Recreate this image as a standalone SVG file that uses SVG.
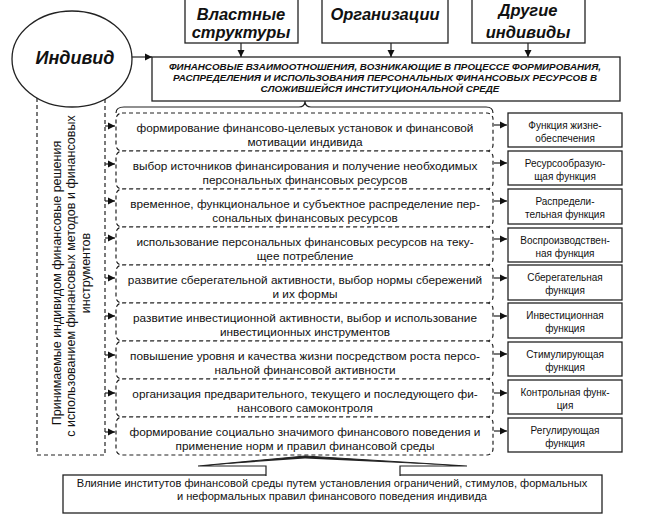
<svg xmlns="http://www.w3.org/2000/svg" width="647" height="522" viewBox="0 0 647 522">
<style>
.box{fill:#fff;stroke:#222;stroke-width:1.3}
.dash{fill:#fff;stroke:#222;stroke-width:1.2;stroke-dasharray:4 3}
.ln{fill:none;stroke:#222;stroke-width:1.2}
.big{font-family:"Liberation Sans",Arial,sans-serif;font-weight:bold;font-style:italic;font-size:16.5px;fill:#111;text-anchor:middle}
.caps{font-family:"Liberation Sans",Arial,sans-serif;font-weight:bold;font-style:italic;font-size:9.8px;fill:#111;text-anchor:middle}
.mid{font-family:"Liberation Sans",Arial,sans-serif;font-size:11.8px;fill:#111;text-anchor:middle}
.fn{font-family:"Liberation Sans",Arial,sans-serif;font-size:10px;fill:#111;text-anchor:middle}
.rot{font-family:"Liberation Sans",Arial,sans-serif;font-size:12.5px;fill:#111;text-anchor:middle}
.bot{font-family:"Liberation Sans",Arial,sans-serif;font-size:11.1px;fill:#111;text-anchor:middle}
</style>
<defs>
<marker id="ah" markerWidth="8" markerHeight="8" refX="7" refY="4" orient="auto" markerUnits="userSpaceOnUse">
<path d="M0,0.5 L7,4 L0,7.5 Z" fill="#111"/>
</marker>
</defs>
<rect width="647" height="522" fill="#fff"/>

<g id="decisions">
<rect class="dash" x="37" y="90" width="68" height="365"/>
<text class="rot" transform="translate(61,283) rotate(-90)">Принимаемые индивидом финансовые решения</text>
<text class="rot" transform="translate(75,276) rotate(-90)">с использованием финансовых методов и финансовых</text>
<text class="rot" transform="translate(90,273) rotate(-90)">инструментов</text>
</g>

<g id="individ">
<ellipse class="box" cx="72" cy="59" rx="60" ry="48"/>
<text class="big" x="75" y="64" style="font-size:18px">Индивид</text>
</g>

<g id="vlast">
<rect class="box" x="185" y="-2" width="113" height="45"/>
<text class="big" x="241" y="20">Властные</text>
<text class="big" x="241" y="38">структуры</text>
</g>
<g id="org">
<rect class="box" x="322" y="-2" width="126" height="45"/>
<text class="big" x="385" y="20">Организации</text>
</g>
<g id="drugie">
<rect class="box" x="472" y="-2" width="113" height="45"/>
<text class="big" x="528" y="16">Другие</text>
<text class="big" x="528" y="38">индивиды</text>
</g>

<g id="relations">
<rect class="box" x="152" y="57" width="468" height="44"/>
<text class="caps" x="385" y="69.5">ФИНАНСОВЫЕ ВЗАИМООТНОШЕНИЯ, ВОЗНИКАЮЩИЕ В ПРОЦЕССЕ ФОРМИРОВАНИЯ,</text>
<text class="caps" x="385" y="80.5">РАСПРЕДЕЛЕНИЯ И ИСПОЛЬЗОВАНИЯ ПЕРСОНАЛЬНЫХ ФИНАНСОВЫХ РЕСУРСОВ В</text>
<text class="caps" x="380" y="91.5">СЛОЖИВШЕЙСЯ ИНСТИТУЦИОНАЛЬНОЙ СРЕДЕ</text>
</g>

<g id="stages">
<rect class="dash" x="116" y="113" width="377" height="38" rx="6"/>
<text class="mid" x="305" y="132">формирование финансово-целевых установок и финансовой</text>
<text class="mid" x="305" y="146">мотивации индивида</text>
<rect class="dash" x="116" y="151" width="377" height="38" rx="6"/>
<text class="mid" x="305" y="170">выбор источников финансирования и получение необходимых</text>
<text class="mid" x="305" y="184">персональных финансовых ресурсов</text>
<rect class="dash" x="116" y="189" width="377" height="38" rx="6"/>
<text class="mid" x="305" y="208">временное, функциональное и субъектное распределение пер-</text>
<text class="mid" x="305" y="222">сональных финансовых ресурсов</text>
<rect class="dash" x="116" y="227" width="377" height="38" rx="6"/>
<text class="mid" x="305" y="246">использование персональных финансовых ресурсов на теку-</text>
<text class="mid" x="305" y="260">щее потребление</text>
<rect class="dash" x="116" y="265" width="377" height="38" rx="6"/>
<text class="mid" x="305" y="284">развитие сберегательной активности, выбор нормы сбережений</text>
<text class="mid" x="305" y="298">и их формы</text>
<rect class="dash" x="116" y="303" width="377" height="38" rx="6"/>
<text class="mid" x="305" y="322">развитие инвестиционной активности, выбор и использование</text>
<text class="mid" x="305" y="336">инвестиционных инструментов</text>
<rect class="dash" x="116" y="341" width="377" height="38" rx="6"/>
<text class="mid" x="305" y="360">повышение уровня и качества жизни посредством роста персо-</text>
<text class="mid" x="305" y="374">нальной финансовой активности</text>
<rect class="dash" x="116" y="379" width="377" height="38" rx="6"/>
<text class="mid" x="305" y="398">организация предварительного, текущего и последующего фи-</text>
<text class="mid" x="305" y="412">нансового самоконтроля</text>
<rect class="dash" x="116" y="417" width="377" height="38" rx="6"/>
<text class="mid" x="305" y="436">формирование социально значимого финансового поведения и</text>
<text class="mid" x="305" y="450">применение норм и правил финансовой среды</text>
</g>

<g id="functions">
<rect class="box" x="508" y="113" width="114" height="34"/>
<text class="fn" x="565" y="128.5">Функция жизне-</text>
<text class="fn" x="565" y="141.5">обеспечения</text>
<rect class="box" x="508" y="151" width="114" height="34"/>
<text class="fn" x="565" y="166.5">Ресурсообразую-</text>
<text class="fn" x="565" y="179.5">щая функция</text>
<rect class="box" x="508" y="189" width="114" height="35"/>
<text class="fn" x="565" y="204.5">Распредели-</text>
<text class="fn" x="565" y="217.5">тельная функция</text>
<rect class="box" x="508" y="228" width="114" height="34"/>
<text class="fn" x="565" y="243.5">Воспроизводствен-</text>
<text class="fn" x="565" y="256.5">ная функция</text>
<rect class="box" x="508" y="265" width="114" height="35"/>
<text class="fn" x="565" y="280.5">Сберегательная</text>
<text class="fn" x="565" y="293.5">функция</text>
<rect class="box" x="508" y="303" width="114" height="35"/>
<text class="fn" x="565" y="318.5">Инвестиционная</text>
<text class="fn" x="565" y="331.5">функция</text>
<rect class="box" x="508" y="342" width="114" height="34"/>
<text class="fn" x="565" y="357.5">Стимулирующая</text>
<text class="fn" x="565" y="370.5">функция</text>
<rect class="box" x="508" y="380" width="114" height="34"/>
<text class="fn" x="565" y="395.5">Контрольная функ-</text>
<text class="fn" x="565" y="408.5">ция</text>
<rect class="box" x="508" y="418" width="114" height="34"/>
<text class="fn" x="565" y="433.5">Регулирующая</text>
<text class="fn" x="565" y="446.5">функция</text>
</g>

<g id="influence">
<rect class="box" x="63" y="475" width="539" height="38"/>
<path d="M266,476 L266,466 L198,466 L305,456 L467,466 L400,466 L400,476" fill="#fff" stroke="#222" stroke-width="1.2"/>
<path d="M198,466 L305,456 L467,466 L305,458.5 Z" fill="#222"/>
<text class="bot" x="332" y="487">Влияние институтов финансовой среды путем установления ограничений, стимулов, формальных</text>
<text class="bot" x="332" y="499.5">и неформальных правил финансового поведения индивида</text>
</g>

<g id="connectors">
<line class="ln" x1="241" y1="43" x2="241" y2="57" marker-end="url(#ah)"/>
<line class="ln" x1="391" y1="43" x2="391" y2="57" marker-end="url(#ah)"/>
<line class="ln" x1="528" y1="43" x2="528" y2="57" marker-end="url(#ah)"/>
<line class="ln" x1="132" y1="57" x2="152" y2="57" marker-end="url(#ah)"/>
<path class="ln" d="M116,113 Q116,107 124,107 L299,107 Q305,107 305,101 Q305,107 311,107 L486,107 Q493,107 493,113"/>
<g>
<line class="ln" x1="105" y1="126" x2="115" y2="126" marker-end="url(#ah)"/>
<line class="ln" x1="105" y1="164" x2="115" y2="164" marker-end="url(#ah)"/>
<line class="ln" x1="105" y1="201" x2="115" y2="201" marker-end="url(#ah)"/>
<line class="ln" x1="105" y1="238" x2="115" y2="238" marker-end="url(#ah)"/>
<line class="ln" x1="105" y1="278" x2="115" y2="278" marker-end="url(#ah)"/>
<line class="ln" x1="105" y1="316" x2="115" y2="316" marker-end="url(#ah)"/>
<line class="ln" x1="105" y1="355" x2="115" y2="355" marker-end="url(#ah)"/>
<line class="ln" x1="105" y1="393" x2="115" y2="393" marker-end="url(#ah)"/>
<line class="ln" x1="105" y1="432" x2="115" y2="432" marker-end="url(#ah)"/>
</g>
<g>
<line class="ln" x1="494" y1="125" x2="507" y2="125" marker-end="url(#ah)"/>
<line class="ln" x1="494" y1="163" x2="507" y2="163" marker-end="url(#ah)"/>
<line class="ln" x1="494" y1="201" x2="507" y2="201" marker-end="url(#ah)"/>
<line class="ln" x1="494" y1="239" x2="507" y2="239" marker-end="url(#ah)"/>
<line class="ln" x1="494" y1="278" x2="507" y2="278" marker-end="url(#ah)"/>
<line class="ln" x1="494" y1="316" x2="507" y2="316" marker-end="url(#ah)"/>
<line class="ln" x1="494" y1="354" x2="507" y2="354" marker-end="url(#ah)"/>
<line class="ln" x1="494" y1="393" x2="507" y2="393" marker-end="url(#ah)"/>
<line class="ln" x1="494" y1="431" x2="507" y2="431" marker-end="url(#ah)"/>
</g>
</g>
</svg>
